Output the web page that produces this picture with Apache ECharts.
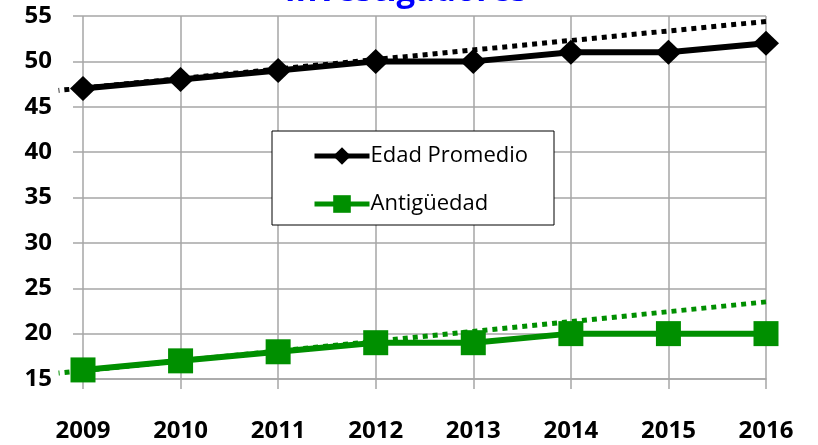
<!DOCTYPE html>
<html>
<head>
<meta charset="utf-8">
<script src="https://cdn.jsdelivr.net/npm/echarts@6/dist/echarts.min.js"></script>
<style>
  html, body { margin: 0; padding: 0; background: #fff; }
  #chart { width: 818px; height: 445px; }
</style>
</head>
<body>
<div id="chart"></div>
<script>
  // datos
  var years = [2009, 2010, 2011, 2012, 2013, 2014, 2015, 2016]
  var edadPromedio = [47, 48, 49, 50, 50, 51, 51, 52]
  var antiguedad = [16, 17, 18, 19, 19, 20, 20, 20]
  // lineas de tendencia (extremos)
  var tendenciaEdad = [[2016, 54.4], [2008.75, 46.8]]
  var tendenciaAntig = [[2016, 23.5], [2008.75, 15.65]]

  var gris = '#a6a6a6'
  var verde = '#008f00'
  var chart = echarts.init(document.getElementById('chart'))

  function pares (vals) {
    return vals.map(function (v, i) { return [years[i], v] })
  }

  var option = {
    animation: false,
    title: {
      text: 'Investigadores',
      left: 401,
      textAlign: 'center',
      top: -30,
      textStyle: {
        color: '#0000ff',
        fontFamily: 'Open Sans',
        fontWeight: 'bold',
        fontSize: 33
      }
    },
    grid: [
      { left: 83, right: 52, top: 16, bottom: 66 },
      // grid auxiliar para las tendencias que empiezan antes de 2009
      { left: 58.6, right: 52, top: 16, bottom: 66 }
    ],
    legend: {
      orient: 'vertical',
      left: 272,
      top: 131,
      padding: [14, 26, 10, 40],
      itemWidth: 55,
      itemHeight: 22,
      itemGap: 26,
      borderColor: '#000',
      borderWidth: 1,
      backgroundColor: '#fff',
      data: ['Edad Promedio', 'Antigüedad'],
      lineStyle: { width: 5 },
      textStyle: {
        fontFamily: 'Open Sans',
        fontSize: 22,
        color: '#000',
        padding: [0, 0, 0, -4]
      }
    },
    xAxis: [{
      type: 'value',
      gridIndex: 0,
      min: 2009,
      max: 2016,
      interval: 1,
      axisLine: { show: true, lineStyle: { color: gris, width: 1.5 } },
      axisTick: { show: true, length: 10, lineStyle: { color: gris, width: 1.5 } },
      splitLine: { show: true, lineStyle: { color: gris, width: 1.5 } },
      axisLabel: {
        margin: 40,
        color: '#000',
        fontFamily: 'Open Sans',
        fontWeight: 'bold',
        fontSize: 24,
        formatter: function (v) { return String(v) }
      }
    }, {
      type: 'value',
      gridIndex: 1,
      min: 2008.75,
      max: 2016,
      show: false
    }],
    yAxis: [{
      type: 'value',
      gridIndex: 0,
      min: 15,
      max: 55,
      interval: 5,
      axisLine: { show: false },
      axisTick: { show: true, length: 10, lineStyle: { color: gris, width: 1.5 } },
      splitLine: { show: true, lineStyle: { color: gris, width: 1.5 } },
      axisLabel: {
        margin: 31,
        color: '#000',
        fontFamily: 'Open Sans',
        fontWeight: 'bold',
        fontSize: 24
      }
    }, {
      type: 'value',
      gridIndex: 1,
      min: 15,
      max: 55,
      show: false,
      splitLine: { show: false }
    }],
    series: [
      {
        name: 'tendencia edad',
        type: 'line',
        xAxisIndex: 1,
        yAxisIndex: 1,
        data: tendenciaEdad,
        symbol: 'none',
        z: 1,
        lineStyle: { color: '#000', width: 5, type: [5, 5] }
      },
      {
        name: 'tendencia antig',
        type: 'line',
        xAxisIndex: 1,
        yAxisIndex: 1,
        data: tendenciaAntig,
        symbol: 'none',
        z: 1,
        lineStyle: { color: verde, width: 5, type: [5, 5] }
      },
      {
        name: 'Edad Promedio',
        type: 'line',
        data: pares(edadPromedio),
        clip: false,
        symbol: 'diamond',
        symbolSize: [26, 25],
        z: 3,
        itemStyle: { color: '#000' },
        lineStyle: { color: '#000', width: 6 }
      },
      {
        name: 'Antigüedad',
        type: 'line',
        data: pares(antiguedad),
        clip: false,
        symbol: 'rect',
        symbolSize: 25,
        z: 3,
        itemStyle: { color: verde },
        lineStyle: { color: verde, width: 6 }
      }
    ]
  }
  chart.setOption(option)
</script>
</body>
</html>
